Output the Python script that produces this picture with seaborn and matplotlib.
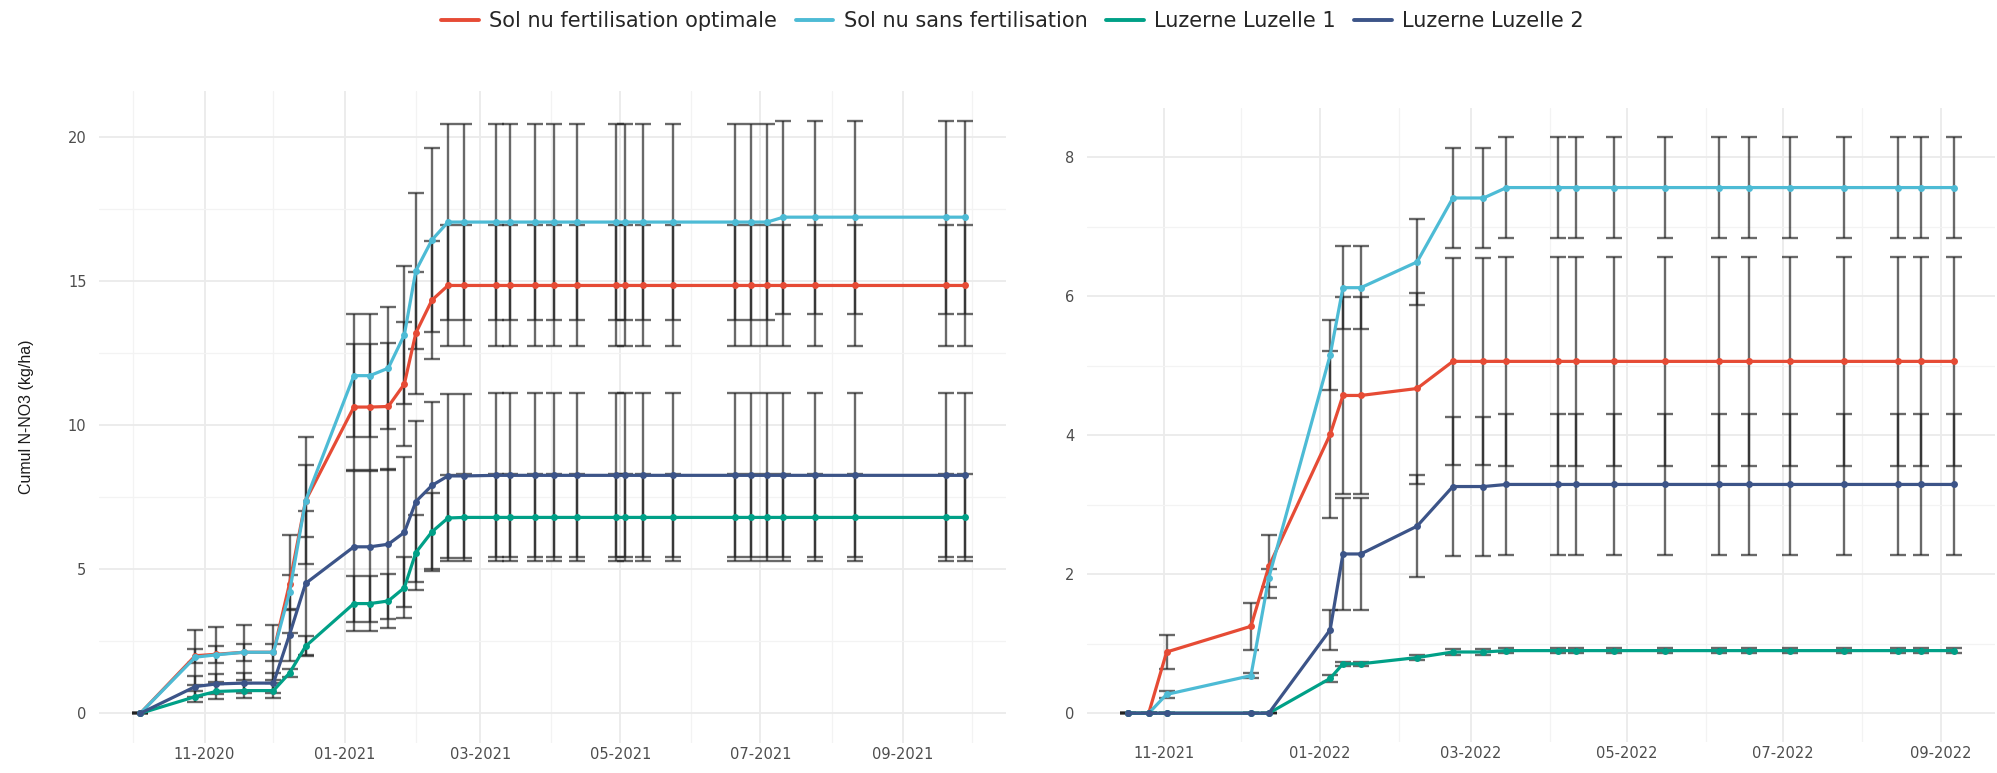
import matplotlib
matplotlib.use("Agg")
import matplotlib.pyplot as plt
import matplotlib.dates as mdates
from matplotlib.lines import Line2D
from matplotlib.ticker import MultipleLocator
import numpy as np
import pandas as pd
import seaborn as sns

# ---------------- data ----------------
series_names = ["Sol nu fertilisation optimale", "Sol nu sans fertilisation",
                "Luzerne Luzelle 1", "Luzerne Luzelle 2"]
series_colors = ["#E64B35", "#4DBBD5", "#00A087", "#3C5488"]

# Left panel (2020-2021)
left_dates = ["2020-10-04", "2020-10-28", "2020-11-06", "2020-11-18", "2020-12-01",
              "2020-12-08", "2020-12-15", "2021-01-05", "2021-01-12", "2021-01-20",
              "2021-01-27", "2021-02-01", "2021-02-08", "2021-02-15", "2021-02-22",
              "2021-03-08", "2021-03-14", "2021-03-25", "2021-04-02", "2021-04-12",
              "2021-04-29", "2021-05-03", "2021-05-11", "2021-05-24", "2021-06-20",
              "2021-06-27", "2021-07-04", "2021-07-11", "2021-07-25", "2021-08-11",
              "2021-09-20", "2021-09-28"]
left_opt = [0, 2.0, 2.05, 2.12, 2.12, 4.5, 7.38, 10.63, 10.63, 10.65, 11.43, 13.2,
            14.34, 14.85, 14.85, 14.85, 14.85, 14.85, 14.85, 14.85, 14.85, 14.85,
            14.85, 14.85, 14.85, 14.85, 14.85, 14.85, 14.85, 14.85, 14.85, 14.85]
left_opt_sd = [0, 0.25, 0.3, 0.3, 0.3, 1.7, 1.25, 2.2, 2.2, 2.2, 2.15, 2.1, 2.05,
               2.1, 2.1, 2.1, 2.1, 2.1, 2.1, 2.1, 2.1, 2.1, 2.1, 2.1, 2.1, 2.1,
               2.1, 2.1, 2.1, 2.1, 2.1, 2.1]
left_sans = [0, 1.95, 2.03, 2.12, 2.12, 4.2, 7.38, 11.72, 11.72, 11.98, 13.14, 15.36,
             16.43, 17.05, 17.05, 17.05, 17.05, 17.05, 17.05, 17.05, 17.05, 17.05,
             17.05, 17.05, 17.05, 17.05, 17.05, 17.22, 17.22, 17.22, 17.22, 17.22]
left_sans_sd = [0, 0.95, 0.95, 0.95, 0.95, 0.6, 2.2, 2.13, 2.13, 2.12, 2.4, 2.7, 3.2,
                3.4, 3.4, 3.4, 3.4, 3.4, 3.4, 3.4, 3.4, 3.4, 3.4, 3.4, 3.4, 3.4,
                3.4, 3.35, 3.35, 3.35, 3.35, 3.35]
left_luz1 = [0, 0.58, 0.76, 0.79, 0.79, 1.4, 2.33, 3.81, 3.81, 3.9, 4.36, 5.58, 6.3,
             6.78, 6.8, 6.8, 6.8, 6.8, 6.8, 6.8, 6.8, 6.8, 6.8, 6.8, 6.8, 6.8, 6.8,
             6.8, 6.8, 6.8, 6.8, 6.8]
left_luz1_sd = [0, 0.2, 0.25, 0.25, 0.25, 0.15, 0.35, 0.95, 0.95, 0.95, 1.05, 1.3,
                1.35, 1.5, 1.52, 1.52, 1.52, 1.52, 1.52, 1.52, 1.52, 1.52, 1.52,
                1.52, 1.52, 1.52, 1.52, 1.52, 1.52, 1.52, 1.52, 1.52]
left_luz2 = [0, 0.93, 1.02, 1.05, 1.05, 2.73, 4.51, 5.78, 5.78, 5.87, 6.28, 7.35,
             7.91, 8.24, 8.24, 8.26, 8.26, 8.26, 8.26, 8.26, 8.26, 8.26, 8.26, 8.26,
             8.26, 8.26, 8.26, 8.26, 8.26, 8.26, 8.26, 8.26]
left_luz2_sd = [0, 0.35, 0.35, 0.35, 0.35, 0.9, 2.5, 2.62, 2.62, 2.6, 2.6, 2.8, 2.9,
                2.85, 2.85, 2.85, 2.85, 2.85, 2.85, 2.85, 2.85, 2.85, 2.85, 2.85,
                2.85, 2.85, 2.85, 2.85, 2.85, 2.85, 2.85, 2.85]

# Right panel (2021-2022)
right_dates = ["2021-10-18", "2021-10-26", "2021-11-02", "2021-12-05", "2021-12-12",
               "2022-01-05", "2022-01-10", "2022-01-17", "2022-02-08", "2022-02-22",
               "2022-03-06", "2022-03-15", "2022-04-04", "2022-04-11", "2022-04-26",
               "2022-05-16", "2022-06-06", "2022-06-18", "2022-07-04", "2022-07-25",
               "2022-08-15", "2022-08-24", "2022-09-06"]
right_opt = [0, 0, 0.88, 1.25, 2.11, 4.01, 4.57, 4.57, 4.67, 5.06, 5.06, 5.06, 5.06,
             5.06, 5.06, 5.06, 5.06, 5.06, 5.06, 5.06, 5.06, 5.06, 5.06]
right_opt_sd = [0, 0, 0.24, 0.34, 0.45, 1.2, 1.42, 1.42, 1.38, 1.49, 1.49, 1.5, 1.5,
                1.5, 1.5, 1.5, 1.5, 1.5, 1.5, 1.5, 1.5, 1.5, 1.5]
right_sans = [0, 0, 0.27, 0.54, 1.95, 5.15, 6.12, 6.12, 6.49, 7.41, 7.41, 7.56, 7.56,
              7.56, 7.56, 7.56, 7.56, 7.56, 7.56, 7.56, 7.56, 7.56, 7.56]
right_sans_sd = [0, 0, 0.055, 0.035, 0.13, 0.5, 0.6, 0.6, 0.62, 0.72, 0.72, 0.73,
                 0.73, 0.73, 0.73, 0.73, 0.73, 0.73, 0.73, 0.73, 0.73, 0.73, 0.73]
right_luz1 = [0, 0, 0, 0, 0, 0.5, 0.71, 0.71, 0.8, 0.88, 0.88, 0.9, 0.9, 0.9, 0.9,
              0.9, 0.9, 0.9, 0.9, 0.9, 0.9, 0.9, 0.9]
right_luz1_sd = [0, 0, 0, 0, 0, 0.05, 0.03, 0.03, 0.03, 0.04, 0.04, 0.04, 0.04, 0.04,
                 0.04, 0.04, 0.04, 0.04, 0.04, 0.04, 0.04, 0.04, 0.04]
right_luz2 = [0, 0, 0, 0, 0, 1.2, 2.29, 2.29, 2.69, 3.26, 3.26, 3.29, 3.29, 3.29,
              3.29, 3.29, 3.29, 3.29, 3.29, 3.29, 3.29, 3.29, 3.29]
right_luz2_sd = [0, 0, 0, 0, 0, 0.29, 0.81, 0.81, 0.73, 1.0, 1.0, 1.02, 1.02, 1.02,
                 1.02, 1.02, 1.02, 1.02, 1.02, 1.02, 1.02, 1.02, 1.02]

y_label = "Cumul N-NO3 (kg/ha)"


def build_frame(dates, means, sds):
    rows = []
    for name, m, s in zip(series_names, means, sds):
        for d, v, e in zip(dates, m, s):
            rows.append({"date": pd.Timestamp(d), "value": v, "sd": e, "serie": name})
    return pd.DataFrame(rows)


left_df = build_frame(left_dates, [left_opt, left_sans, left_luz1, left_luz2],
                      [left_opt_sd, left_sans_sd, left_luz1_sd, left_luz2_sd])
right_df = build_frame(right_dates, [right_opt, right_sans, right_luz1, right_luz2],
                       [right_opt_sd, right_sans_sd, right_luz1_sd, right_luz2_sd])

# ---------------- style ----------------
sns.set_theme(style="white")
plt.rcParams["font.family"] = ["DejaVu Sans"]

W, H = 1997, 773
fig = plt.figure(figsize=(W / 100, H / 100), dpi=100)
axL = fig.add_axes([99 / W, 1 - 743 / H, 907 / W, (743 - 91) / H])
axR = fig.add_axes([1087 / W, 1 - 742 / H, 908 / W, (742 - 108) / H])

palette = dict(zip(series_names, series_colors))


def draw_panel(ax, df, ymajor, yminor):
    # error bars
    for name in series_names:
        sub = df[df["serie"] == name]
        ax.errorbar(sub["date"], sub["value"], yerr=sub["sd"], fmt="none",
                    ecolor="#222222", alpha=0.68, elinewidth=1.7, capsize=6,
                    capthick=1.7, zorder=2)
    sns.lineplot(data=df, x="date", y="value", hue="serie", hue_order=series_names,
                 palette=palette, marker="o", markersize=5, markeredgewidth=0,
                 linewidth=2.3, errorbar=None, estimator=None, sort=True,
                 legend=False, ax=ax, zorder=3)
    # limits with 5% expansion like ggplot
    lo = (df["value"] - df["sd"]).min()
    hi = (df["value"] + df["sd"]).max()
    pad = 0.05 * (hi - lo)
    ax.set_ylim(lo - pad, hi + pad)
    dmin, dmax = df["date"].min(), df["date"].max()
    dpad = (dmax - dmin) * 0.05
    ax.set_xlim(dmin - dpad, dmax + dpad)

    ax.xaxis.set_major_locator(mdates.MonthLocator(bymonth=[1, 3, 5, 7, 9, 11]))
    ax.xaxis.set_major_formatter(mdates.DateFormatter("%m-%Y"))
    ax.xaxis.set_minor_locator(mdates.MonthLocator())
    ax.yaxis.set_major_locator(MultipleLocator(ymajor))
    ax.yaxis.set_minor_locator(MultipleLocator(yminor))

    ax.grid(which="major", color="#EBEBEB", linewidth=1.3, zorder=0)
    ax.grid(which="minor", color="#F3F3F3", linewidth=0.9, zorder=0)
    ax.set_axisbelow(True)
    for sp in ax.spines.values():
        sp.set_visible(False)
    ax.tick_params(axis="both", which="both", length=0, labelsize=10.5,
                   labelcolor="#4D4D4D")
    ax.tick_params(axis="x", pad=3)
    ax.tick_params(axis="y", pad=9)
    ax.set_xlabel("")
    ax.set_ylabel("")
    ax.set_facecolor("white")


draw_panel(axL, left_df, 5, 2.5)
draw_panel(axR, right_df, 2, 1)

axL.set_ylabel(y_label, fontsize=11.5, color="#1a1a1a",
               family=["Liberation Sans", "DejaVu Sans"])
axL.yaxis.set_label_coords(-0.072, 0.5)

handles = [Line2D([0], [0], color=c, lw=2.8) for c in series_colors]
fig.legend(handles, series_names, loc="center", bbox_to_anchor=(0.507, 0.973),
           ncol=4, frameon=False, fontsize=15, handlelength=1.8,
           columnspacing=0.9, handletextpad=0.5)

fig.savefig("out.png", dpi=100, facecolor="white")
